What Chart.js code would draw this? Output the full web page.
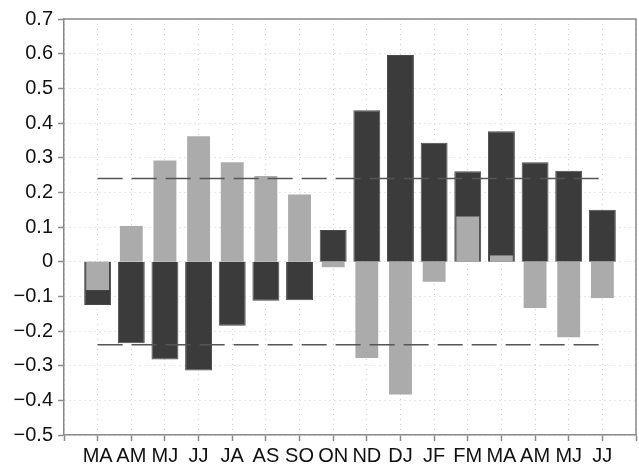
<!DOCTYPE html>
<html>
<head>
<meta charset="utf-8">
<script src="https://cdn.jsdelivr.net/npm/chart.js@4"></script>
<style>
  html, body { margin: 0; padding: 0; background: #fff; }
  #wrap { width: 639px; height: 469px; }
</style>
</head>
<body>
<div id="wrap"><canvas id="chart" width="639" height="469"></canvas></div>
<script>
const categories = ['MA', 'AM', 'MJ', 'JJ', 'JA', 'AS', 'SO', 'ON', 'ND', 'DJ', 'JF', 'FM', 'MA', 'AM', 'MJ', 'JJ'];
const darkValues = [-0.125, -0.235, -0.282, -0.314, -0.185, -0.113, -0.111, 0.091, 0.437, 0.596, 0.343, 0.261, 0.376, 0.287, 0.262, 0.150];
const lightValues = [-0.082, 0.103, 0.292, 0.362, 0.287, 0.247, 0.194, -0.016, -0.278, -0.383, -0.058, 0.130, 0.018, -0.134, -0.218, -0.105];
const upperLimit = 0.24;
const lowerLimit = -0.24;
const yTicks = { min: -0.5, max: 0.7, step: 0.1 };

const toPoints = (values) => values.map((v, i) => ({ x: i, y: v }));
const limitLine = (v) => [{ x: 0, y: v }, { x: categories.length - 1, y: v }];

// top and right edges of the box
const frame = {
    id: 'frame',
    afterDraw(chart) {
        const { ctx, chartArea: a } = chart;
        ctx.save();
        ctx.strokeStyle = '#8a8a8a';
        ctx.lineWidth = 1.5;
        ctx.beginPath();
        ctx.moveTo(a.left, a.top);
        ctx.lineTo(a.right, a.top);
        ctx.lineTo(a.right, a.bottom);
        ctx.stroke();
        ctx.restore();
    },
};

const dashed = {
    type: 'line',
    borderColor: '#555',
    borderWidth: 1.5,
    borderDash: [25, 9],
    pointRadius: 0,
    fill: false,
    order: 0,
};

const tickFont = { family: "'Liberation Sans', Arial, sans-serif", size: 20 };

new Chart(document.getElementById('chart'), {
    type: 'bar',
    data: {
        datasets: [
            {
                data: toPoints(darkValues),
                backgroundColor: '#3b3b3b',
                borderColor: '#4a4a4a',
                borderWidth: 1,
                categoryPercentage: 1,
                barPercentage: 0.8,
                order: 2,
            },
            {
                data: toPoints(lightValues),
                backgroundColor: '#ababab',
                borderWidth: 0,
                categoryPercentage: 1,
                barPercentage: 0.68,
                order: 1,
            },
            { ...dashed, data: limitLine(upperLimit) },
            { ...dashed, data: limitLine(lowerLimit) },
        ],
    },
    options: {
        responsive: false,
        animation: false,
        grouped: false,
        layout: { padding: { top: 19, right: 1, left: 1, bottom: 0 } },
        plugins: {
            legend: { display: false },
            tooltip: { enabled: false },
        },
        scales: {
            x: {
                type: 'linear',
                offset: false,
                min: -1,
                max: categories.length,
                afterFit: (scale) => { scale.height = 34; },
                afterBuildTicks: (scale) => {
                    scale.ticks = [];
                    for (let i = -1; i <= categories.length; i++) scale.ticks.push({ value: i });
                },
                ticks: {
                    autoSkip: false,
                    maxRotation: 0,
                    padding: 3,
                    color: '#111',
                    font: tickFont,
                    callback: (v) => categories[v] || '',
                },
                grid: {
                    offset: false,
                    color: '#cfcfcf',
                    lineWidth: 1,
                    tickColor: '#8a8a8a',
                    tickLength: 6,
                    tickWidth: 1.5,
                },
                border: { color: '#8a8a8a', width: 1.5, dash: [1, 4] },
            },
            y: {
                min: yTicks.min,
                max: yTicks.max,
                afterFit: (scale) => { scale.width = 63; },
                ticks: {
                    stepSize: yTicks.step,
                    padding: 5,
                    color: '#111',
                    font: tickFont,
                    callback: (v) => {
                        const r = Math.round(v * 10) / 10;
                        if (r === 0) return '0';
                        return r.toFixed(1).replace('-', '\u2212');
                    },
                },
                grid: {
                    color: '#cfcfcf',
                    lineWidth: 1,
                    tickColor: '#8a8a8a',
                    tickLength: 6,
                    tickWidth: 1.5,
                },
                border: { color: '#8a8a8a', width: 1.5, dash: [1, 4] },
            },
        },
    },
    plugins: [frame],
});
</script>
</body>
</html>
